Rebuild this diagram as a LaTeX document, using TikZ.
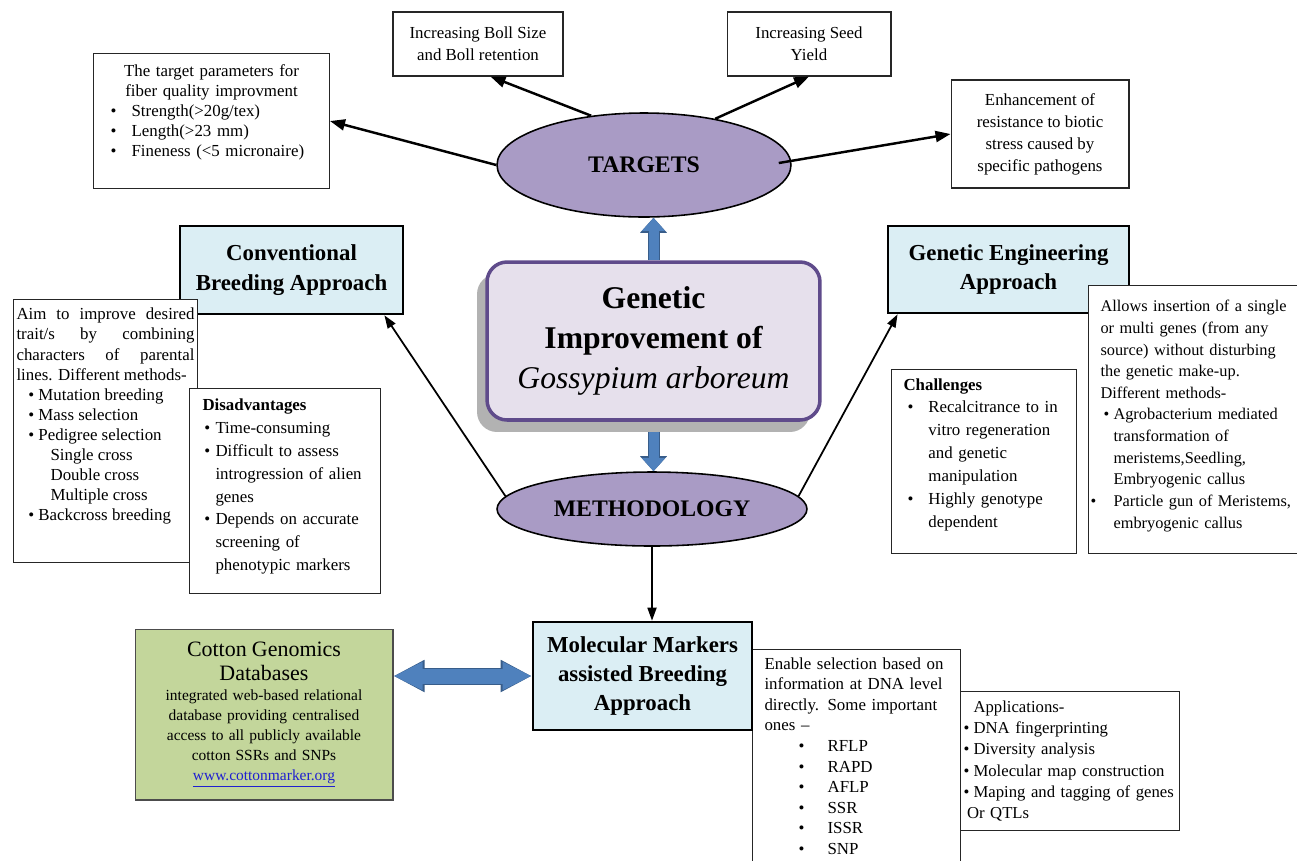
\documentclass[tikz,border=0pt]{standalone}
\usepackage{fontspec}
\setmainfont{Liberation Serif}
\usetikzlibrary{positioning,calc,shapes.geometric,arrows.meta,shadows}

\definecolor{ovalfill}{HTML}{A99BC5}
\definecolor{titlefill}{HTML}{E6E0EC}
\definecolor{titleedge}{HTML}{5F4B8B}
\definecolor{headfill}{HTML}{DBEEF4}
\definecolor{dbfill}{HTML}{C3D69B}
\definecolor{blockblue}{HTML}{4F81BD}
\definecolor{blockedge}{HTML}{385D8A}
\definecolor{linkblue}{HTML}{1F1FD0}

\hyphenpenalty=10000
\exhyphenpenalty=10000

% bullet line: #1 bullet indent, #2 text indent, #3 text
\newcommand{\bul}[3]{\par\noindent\hangindent=#2\hangafter=1\hspace*{#1}\makebox[\dimexpr#2-#1\relax][l]{\textbullet}#3}
\newcommand{\padbot}[1]{\par\vspace{#1}\hrule height 0pt}
\newcommand{\loosebox}{\rightskip=0pt plus 1fil minus 30pt\relax}

\begin{document}
\begin{tikzpicture}[x=0.02cm, y=-0.02cm,
    txtbox/.style={draw=black!85, line width=0.6pt, fill=white, align=left,
      inner ysep=0.1cm, font=\fontsize{9.6}{11.4}\selectfont},
    listbox/.style={txtbox, execute at begin node=\loosebox},
    headbox/.style={draw=black, line width=1.5pt, fill=headfill, align=center,
      inner sep=0pt, font=\fontsize{13}{17}\selectfont\bfseries},
    oval/.style={ellipse, draw=black, line width=0.9pt, fill=ovalfill,
      inner sep=0pt, font=\fontsize{13.5}{16}\selectfont\bfseries},
    tarrow/.style={-{Triangle[length=0.3cm,width=0.22cm]}, line width=1.4pt},
    marrow/.style={-{Triangle[length=0.26cm,width=0.18cm]}, line width=1pt},
    blockarrow/.style={draw=blockblue, line width=0.2cm,
      -{Triangle[length=0.26cm,width=0.44cm]},
      preaction={draw=blockedge, line width=0.24cm, -{Triangle[length=0.3cm,width=0.52cm]}}},
    dblarrow/.style={draw=blockblue, line width=0.3cm,
      {Triangle[length=0.58cm,width=0.52cm]}-{Triangle[length=0.58cm,width=0.52cm]},
      preaction={draw=blockedge, line width=0.34cm,
        {Triangle[length=0.62cm,width=0.6cm]}-{Triangle[length=0.62cm,width=0.6cm]}}},
  ]
  \fill[white] (0,0) rectangle (1297,860);
  \useasboundingbox (0,0) rectangle (1297,860);

  % targets
  \node[listbox, anchor=north west, text width=4.56cm, inner xsep=0.08cm,
    minimum width=4.72cm, minimum height=2.70cm] (fiber) at (93,53)
    {{\centering The target parameters for\\fiber quality improvment\par}%
     \bul{7.4pt}{19.4pt}{Strength(>20g/tex)}%
     \bul{7.4pt}{19.4pt}{Length(>23 mm)}%
     \bul{7.4pt}{19.4pt}{Fineness (<5 micronaire)}\padbot{10pt}};
  \node[txtbox, align=center, minimum width=3.40cm, minimum height=1.28cm,
    font=\fontsize{9.6}{12.5}\selectfont] (boll) at (478,44) {Increasing Boll Size\\and Boll retention};
  \node[txtbox, align=center, minimum width=3.28cm, minimum height=1.28cm,
    font=\fontsize{9.6}{12.5}\selectfont] (seed) at (809,44) {Increasing Seed\\Yield};
  \node[txtbox, align=center, minimum width=3.56cm, minimum height=2.16cm,
    font=\fontsize{9.6}{12.5}\selectfont] (enh) at (1040,134)
    {Enhancement of\\resistance to biotic\\stress caused by\\specific pathogens};
  \node[oval, minimum width=5.88cm, minimum height=2.08cm] (targets) at (644,165) {TARGETS};

  % approaches
  \node[headbox, minimum width=4.46cm, minimum height=1.76cm] (conv) at (291.5,270) {Conventional\\Breeding Approach};
  \node[headbox, minimum width=4.82cm, minimum height=1.74cm] (ge) at (1008.5,269.5) {Genetic Engineering\\Approach};

  \node[txtbox, anchor=north west, align=justify, text width=3.56cm, inner xsep=0.06cm,
    minimum width=3.68cm, minimum height=5.26cm] (aim) at (13,299)
    {Aim to improve desired\linebreak trait/s by combining\linebreak characters of parental\linebreak lines. Different methods-%
     \bul{6.8pt}{12.5pt}{Mutation breeding}%
     \bul{6.8pt}{12.5pt}{Mass selection}%
     \bul{6.8pt}{12.5pt}{Pedigree selection}%
     \par\noindent\hspace*{19.4pt}Single cross%
     \par\noindent\hspace*{19.4pt}Double cross%
     \par\noindent\hspace*{19.4pt}Multiple cross%
     \bul{6.8pt}{12.5pt}{Backcross breeding}\padbot{17pt}};
  \node[listbox, anchor=north west, text width=3.30cm, inner xsep=0.26cm,
    minimum width=3.82cm, minimum height=4.10cm, font=\fontsize{9.6}{13}\selectfont] (dis) at (189,388)
    {\textbf{Disadvantages}%
     \bul{1.1pt}{7.4pt}{Time-consuming}%
     \bul{1.1pt}{7.4pt}{Difficult to assess\newline introgression of alien\newline genes}%
     \bul{1.1pt}{7.4pt}{Depends on accurate\newline screening of\newline phenotypic markers}\padbot{5pt}};

  \node[listbox, anchor=north west, text width=3.22cm, inner xsep=0.24cm,
    minimum width=3.70cm, minimum height=3.68cm, font=\fontsize{9.6}{13}\selectfont] (chal) at (891,369)
    {\textbf{Challenges}%
     \bul{2.3pt}{14.2pt}{Recalcitrance to in\newline vitro regeneration\newline and genetic\newline manipulation}%
     \bul{2.3pt}{14.2pt}{Highly genotype\newline dependent}\padbot{8pt}};
  \node[listbox, anchor=north west, text width=4.1cm, inner xsep=0.24cm,
    minimum width=4.58cm, minimum height=5.36cm, font=\fontsize{9.3}{12.3}\selectfont] (allow) at (1088,285)
    {Allows insertion of a single\\or multi genes (from any\\source) without disturbing\\the genetic make-up.\\Different methods-%
     \bul{1.7pt}{7.4pt}{Agrobacterium mediated\newline transformation of\newline meristems,Seedling,\newline Embryogenic callus}%
     \bul{-5.7pt}{7.4pt}{Particle gun of Meristems,\newline embryogenic callus}\padbot{4pt}};

  % centre
  \node[draw=titleedge, line width=2pt, fill=titlefill, rounded corners=0.4cm,
    minimum width=6.66cm, minimum height=3.16cm, align=center,
    font=\fontsize{18}{23}\selectfont\bfseries,
    drop shadow={shadow xshift=-0.2cm, shadow yshift=-0.24cm, fill=black!30, opacity=1}]
    (title) at (653.5,341) {Genetic\\Improvement of\\{\mdseries\itshape Gossypium arboreum}};
  \node[oval, minimum width=6.2cm, minimum height=1.48cm] (meth) at (652,509) {METHODOLOGY};

  % markers
  \node[listbox, anchor=north west, text width=3.68cm, inner xsep=0.24cm, inner ysep=0.16cm,
    minimum width=4.16cm, font=\fontsize{9.6}{11.7}\selectfont] (ena) at (752,649)
    {Enable selection based on\\information at DNA level\\directly. Some important\\ones –%
     \bul{19.4pt}{35.9pt}{RFLP}%
     \bul{19.4pt}{35.9pt}{RAPD}%
     \bul{19.4pt}{35.9pt}{AFLP}%
     \bul{19.4pt}{35.9pt}{SSR}%
     \bul{19.4pt}{35.9pt}{ISSR}%
     \bul{19.4pt}{35.9pt}{SNP}\padbot{10pt}};
  \node[listbox, anchor=north west, text width=4.26cm, inner xsep=0.06cm,
    minimum width=4.38cm, minimum height=2.78cm, font=\fontsize{9.5}{12}\selectfont] (app) at (960,691)
    {\hspace*{5.7pt}Applications-%
     \bul{0pt}{5.7pt}{DNA fingerprinting}%
     \bul{0pt}{5.7pt}{Diversity analysis}%
     \bul{0pt}{5.7pt}{Molecular map construction}%
     \bul{0pt}{5.7pt}{Maping and tagging of genes\newline\hspace*{2pt}Or QTLs}};
  \node[headbox, minimum width=4.38cm, minimum height=2.16cm,
    font=\fontsize{13}{16.5}\selectfont\bfseries] (mol) at (642.5,676) {Molecular Markers\\assisted Breeding\\Approach};
  \node[txtbox, draw=black!70, fill=dbfill, text width=4.96cm, inner xsep=0.1cm,
    minimum width=5.16cm, minimum height=3.42cm, font=\fontsize{8.8}{11.4}\selectfont] (cot) at (264,714.5)
    {\centering{\fontsize{12.5}{13.7}\selectfont Cotton Genomics\\Databases\par}%
     integrated web-based relational\\database providing centralised\\access to all publicly available\\cotton SSRs and SNPs\\\textcolor{linkblue}{\underline{www.cottonmarker.org}}\par};

  \draw[tarrow] (targets.west) -- (fiber.east);
  \draw[tarrow] (targets.137) -- (boll.-69);
  \draw[tarrow] (targets.33) -- (seed.south);
  \draw[tarrow] ($(targets.east)+(-13,-2)$) -- (enh.west);
  \draw[blockarrow] (title.north) -- (title.north |- targets.south);
  \draw[blockarrow] ($(title.south)+(0,10)$) -- (title.south |- meth.north);
  \draw[marrow] (meth.175) -- (conv.-26);
  \draw[marrow] (meth.5) -- (ge.202);
  \draw[marrow] (meth.south) -- (meth.south |- mol.north);
  \draw[dblarrow] (cot.east |- mol.west) -- (mol.west);
\end{tikzpicture}
\end{document}
